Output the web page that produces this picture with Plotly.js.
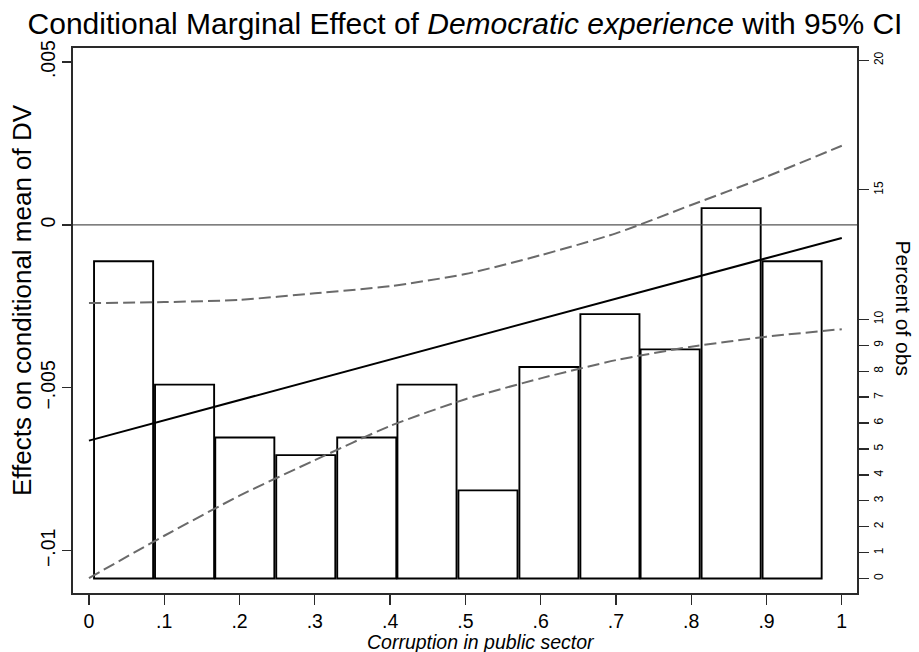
<!DOCTYPE html>
<html>
<head>
<meta charset="utf-8">
<script src="https://cdn.plot.ly/plotly-3.0.1.min.js"></script>
<style>html,body{margin:0;padding:0;background:#fff;}#chart{width:919px;height:652px;}</style>
</head>
<body>
<div id="chart"></div>
<script>
// Histogram of corruption (percent of observations)
const binMid = [0.046, 0.127, 0.207, 0.288, 0.369, 0.449, 0.530, 0.611, 0.692, 0.772, 0.853, 0.934];
const binPct = [12.24, 7.48, 5.44, 4.76, 5.44, 7.48, 3.40, 8.16, 10.20, 8.84, 14.29, 12.24];

// Marginal effect (linear) and 95% CI
const meX = [0, 1];
const meY = [-0.00662, -0.00040];
const ciX = [0, 0.1, 0.2, 0.3, 0.4, 0.5, 0.6, 0.7, 0.8, 0.9, 1.0];
const ciUpper = [-0.00240, -0.00237, -0.00230, -0.00210, -0.00188, -0.00151, -0.00093, -0.00026, 0.00061, 0.00148, 0.00243];
const ciLower = [-0.01084, -0.00954, -0.00831, -0.00722, -0.00617, -0.00535, -0.00471, -0.00415, -0.00374, -0.00343, -0.00320];

const xTickVals = [0, 0.1, 0.2, 0.3, 0.4, 0.5, 0.6, 0.7, 0.8, 0.9, 1];
const xTickText = ['0', '.1', '.2', '.3', '.4', '.5', '.6', '.7', '.8', '.9', '1'];
const yTickVals = [0.005, 0, -0.005, -0.01];
const yTickText = ['.005', '0', '\u2212.005', '\u2212.01'];
const pctTickVals = [0, 1, 2, 3, 4, 5, 6, 7, 8, 9, 10, 15, 20];
const pctTickText = pctTickVals.map(String);

const FONT = 'Liberation Sans, Arial, Helvetica, sans-serif';
const AX = '#2a2a2a';

const traces = [
  {
    type: 'bar', x: binMid, y: binPct, yaxis: 'y', xaxis: 'x',
    width: 0.0785,
    marker: {color: '#ffffff', line: {color: '#000', width: 1.9}},
    hoverinfo: 'skip', showlegend: false
  },
  {
    type: 'scatter', mode: 'lines', x: ciX, y: ciUpper, yaxis: 'y2',
    line: {color: '#6a6a6a', width: 2, dash: '12px,5px', shape: 'spline', smoothing: 0.6},
    showlegend: false
  },
  {
    type: 'scatter', mode: 'lines', x: ciX, y: ciLower, yaxis: 'y2',
    line: {color: '#6a6a6a', width: 2, dash: '12px,5px', shape: 'spline', smoothing: 0.6},
    showlegend: false
  },
  {
    type: 'scatter', mode: 'lines', x: meX, y: meY, yaxis: 'y2',
    line: {color: '#000', width: 2},
    showlegend: false
  }
];

const layout = {
  width: 919, height: 652,
  paper_bgcolor: '#fff', plot_bgcolor: '#fff',
  margin: {l: 73, r: 61.5, t: 47.7, b: 58.7, pad: 0},
  font: {family: FONT, color: '#000'},
  showlegend: false,
  title: {
    text: 'Conditional Marginal Effect of <i>Democratic experience</i> with 95% CI',
    font: {family: FONT, size: 30, color: '#000'},
    x: 0.5, xanchor: 'center', xref: 'paper',
    y: 1 - 23 / 652, yanchor: 'middle', yref: 'container'
  },
  xaxis: {
    range: [-0.0212, 1.0202], tickvals: xTickVals, ticktext: xTickText,
    ticks: 'outside', ticklen: 10, tickwidth: 1.3, tickcolor: AX,
    showline: true, linecolor: AX, linewidth: 1.6, mirror: true,
    showgrid: false, zeroline: false,
    tickfont: {family: FONT, size: 19.5, color: '#000'}
  },
  yaxis: {
    range: [-0.559, 20.47], side: 'right',
    tickvals: pctTickVals, ticktext: pctTickText, tickangle: -90,
    ticks: 'outside', ticklen: 10, tickwidth: 1.3, tickcolor: AX,
    showline: true, linecolor: AX, linewidth: 1.6,
    showgrid: false, zeroline: false,
    tickfont: {family: FONT, size: 12, color: '#000'}
  },
  yaxis2: {
    range: [-0.011297, 0.005429], overlaying: 'y', side: 'left',
    tickvals: yTickVals, ticktext: yTickText, tickangle: -90,
    ticks: 'outside', ticklen: 9, tickwidth: 1.3, tickcolor: AX,
    showline: true, linecolor: AX, linewidth: 1.6,
    showgrid: false, zeroline: false,
    tickfont: {family: FONT, size: 19.5, color: '#000'}
  },
  shapes: [
    {type: 'line', xref: 'paper', x0: 0, x1: 1, yref: 'y2', y0: 0, y1: 0,
     line: {color: '#555', width: 1.4}, layer: 'above'}
  ],
  annotations: [
    {text: 'Effects on conditional mean of DV', xref: 'paper', yref: 'paper',
     x: -(73 - 22) / 784.5, y: (593.3 - 300) / 545.6, xanchor: 'center', yanchor: 'middle',
     textangle: -90, showarrow: false, font: {family: FONT, size: 26, color: '#000'}},
    {text: 'Percent of obs', xref: 'paper', yref: 'paper',
     x: 1 + (905 - 857.5) / 784.5, y: (593.3 - 308) / 545.6, xanchor: 'center', yanchor: 'middle',
     textangle: 90, showarrow: false, font: {family: FONT, size: 21, color: '#000'}},
    {text: '<i>Corruption in public sector</i>', xref: 'paper', yref: 'paper',
     x: (481 - 73) / 784.5, y: -(642 - 593.3) / 545.6, xanchor: 'center', yanchor: 'middle',
     showarrow: false, font: {family: FONT, size: 19.5, color: '#000'}}
  ]
};

Plotly.newPlot('chart', traces, layout, {displayModeBar: false, staticPlot: true});
</script>
</body>
</html>
